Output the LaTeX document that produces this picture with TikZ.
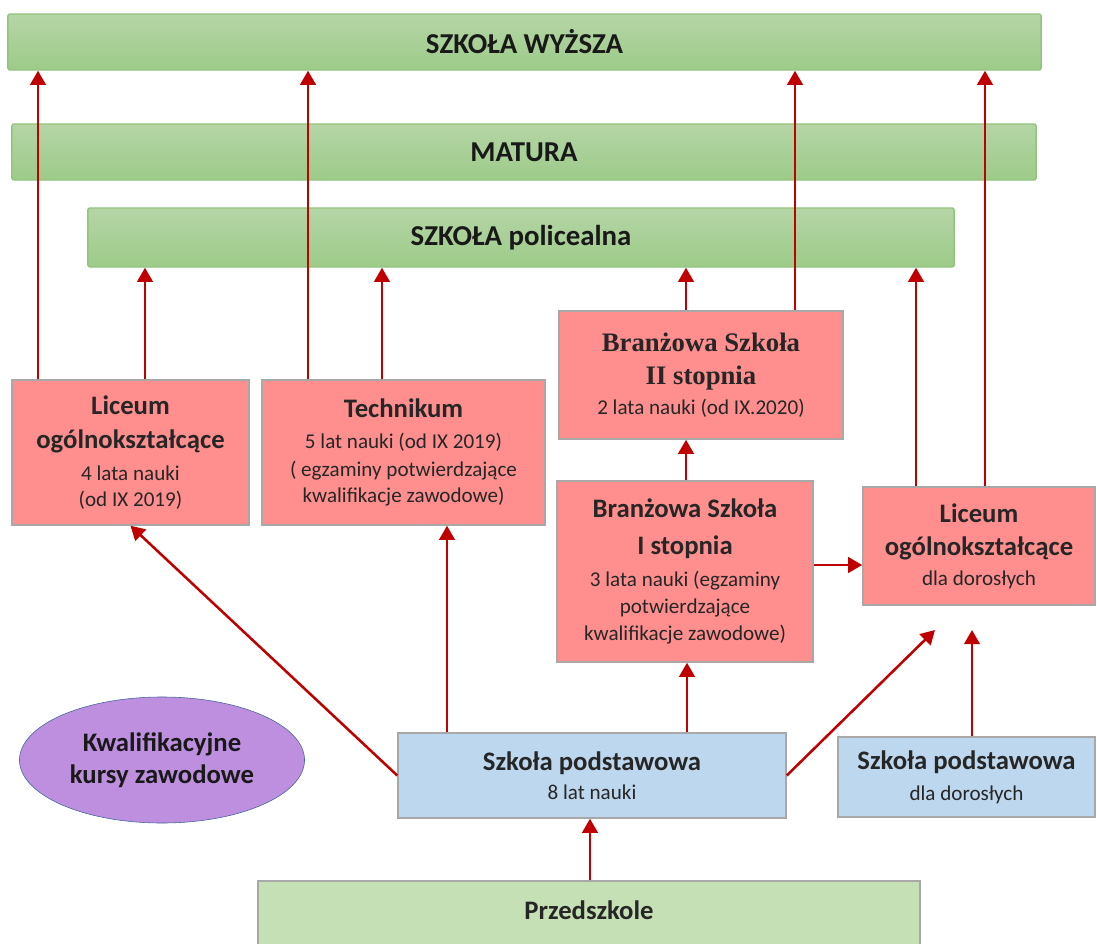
\documentclass[tikz,border=0pt]{standalone}
\usepackage{fontspec}
\setmainfont{Carlito}
\newfontfamily\serifbold{Liberation Serif}
\usetikzlibrary{arrows.meta,shapes.geometric}
\definecolor{bartop}{HTML}{B5D5A6}
\definecolor{barbot}{HTML}{9DCB89}
\definecolor{barline}{HTML}{92C47E}
\definecolor{pinkfill}{HTML}{FF8F8F}
\definecolor{bluefill}{HTML}{BDD7EE}
\definecolor{pzfill}{HTML}{C5E0B4}
\definecolor{boxline}{HTML}{A8A8A8}
\definecolor{fiolet}{HTML}{BE8FDF}
\definecolor{fioletline}{HTML}{41649A}
\definecolor{arrred}{HTML}{C00000}
\newcommand\glowny[1]{{\fontsize{19}{24}\selectfont\bfseries #1}}
\newcommand\glownyser[1]{{\serifbold\fontsize{19}{24}\selectfont\bfseries #1}}
\begin{document}
\begin{tikzpicture}[x=0.025cm,y=-0.025cm,
	bar/.style={draw=barline, line width=1pt, top color=bartop, bottom color=barbot, rounded corners=1.5pt, inner sep=0pt, text=black!90, font=\fontsize{20.5}{24}\selectfont\bfseries},
	pinkbox/.style={draw=boxline, line width=1pt, fill=pinkfill, inner sep=0pt, align=center, text=black!85, font=\fontsize{15}{18}\selectfont},
	bluebox/.style={pinkbox, fill=bluefill},
	arr/.style={draw=arrred, line width=1.8pt, -{Triangle[width=11pt,length=10pt]}}]
	\useasboundingbox (0,0) rectangle (1097,944);
	% paski
	\node[bar, minimum width=25.825cm, minimum height=1.4cm] (wy) at (524.5,42) {SZKOŁA WYŻSZA};
	\node[bar, minimum width=25.6cm, minimum height=1.4cm] (mat) at (524,152) {MATURA};
	\node[bar, minimum width=21.65cm, minimum height=1.475cm] (pol) at (521,237.5) {SZKOŁA policealna};
	% szkoly
	\node[pinkbox, minimum width=5.925cm, minimum height=3.625cm] (lo) at (130.5,452.5)
		{\glowny{Liceum}\\[6pt] \glowny{ogólnokształcące}\\[5pt] 4 lata nauki\\ (od IX 2019)};
	\node[pinkbox, minimum width=7.075cm, minimum height=3.625cm] (tk) at (403.5,452.5)
		{\glowny{Technikum}\\[4pt] 5 lat nauki (od IX 2019)\\[2pt] ( egzaminy potwierdzające\\[1pt] kwalifikacje zawodowe)};
	\node[pinkbox, minimum width=7.1cm, minimum height=3.2cm] (bs2) at (701,375)
		{\glownyser{Branżowa Szkoła}\\[6pt] \glownyser{II stopnia}\\[3pt] 2 lata nauki (od IX.2020)};
	\node[pinkbox, minimum width=6.4cm, minimum height=4.525cm] (bs1) at (685,571.5)
		{\glowny{Branżowa Szkoła}\\[8pt] \glowny{I stopnia}\\[5pt] 3 lata nauki (egzaminy\\[1pt] potwierdzające\\[1pt] kwalifikacje zawodowe)};
	\node[pinkbox, minimum width=5.8cm, minimum height=2.95cm] (lod) at (979,546)
		{\glowny{Liceum}\\[6pt] \glowny{ogólnokształcące}\\[3pt] dla dorosłych};
	\node[ellipse, draw=fioletline, fill=fiolet, minimum width=7.125cm, minimum height=3.15cm, inner sep=0pt, align=center, text=black!90, font=\fontsize{15}{18}\selectfont] (kkz) at (162,760)
		{\glowny{Kwalifikacyjne}\\[5pt] \glowny{kursy zawodowe}};
	\node[bluebox, minimum width=9.7cm, minimum height=2.125cm] (ps) at (592,775.5)
		{\glowny{Szkoła podstawowa}\\[3pt] 8 lat nauki};
	\node[bluebox, minimum width=6.425cm, minimum height=2cm] (psd) at (966.5,777)
		{\glowny{Szkoła podstawowa}\\[4pt] dla dorosłych};
	\node[pinkbox, fill=pzfill, minimum width=16.55cm, minimum height=1.85cm, text depth=11pt] (pz) at (589,918)
		{\glowny{Przedszkole}};
	\coordinate (k1) at (935,630);
	\coordinate (k2) at (972,630);
	% strzalki
	\foreach \x/\a/\b in {38/lo/wy, 145/lo/pol, 308/tk/wy, 382/tk/pol, 686/bs2/pol, 795/bs2/wy,
		916/lod/pol, 985/lod/wy, 686/bs1/bs2, 447/ps/tk, 687/ps/bs1, 590/pz/ps}
		\draw[arr] (\x,0 |- \a.north) -- (\x,0 |- \b.south);
	\draw[arr] (0,565 -| bs1.east) -- (0,565 -| lod.west);
	\draw[arr] (ps.west) -- (lo.south);
	\draw[arr] (ps.east) -- (k1);
	\draw[arr] (972,0 |- psd.north) -- (k2);
\end{tikzpicture}
\end{document}
